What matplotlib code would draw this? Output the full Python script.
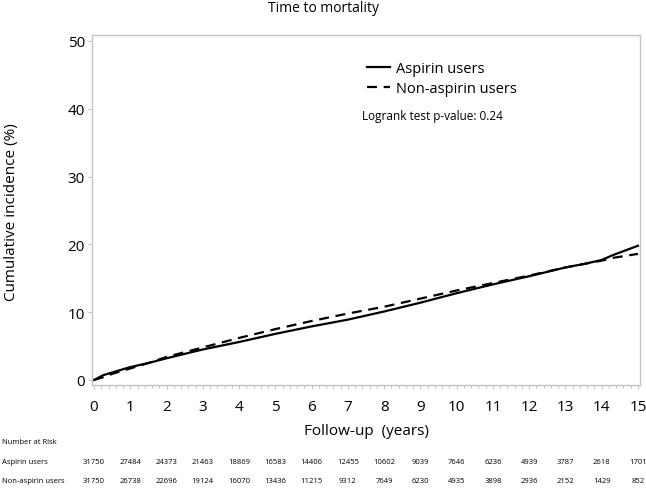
import matplotlib
matplotlib.use("Agg")
import matplotlib.pyplot as plt
import matplotlib.transforms as mtransforms
from matplotlib.ticker import MultipleLocator

plt.rcParams['font.family'] = ['Open Sans', 'DejaVu Sans']

# cumulative incidence curves
years = [0, 0.25, 0.5, 1, 1.5, 2, 3, 4, 5, 6, 7, 8, 9, 10, 11, 12, 13, 13.5, 14, 14.3, 15]
aspirin = [0, 0.7, 1.1, 1.9, 2.5, 3.2, 4.5, 5.6, 6.8, 7.9, 8.9, 10.1, 11.4, 12.8,
           14.1, 15.3, 16.6, 17.1, 17.7, 18.4, 19.8]
non_aspirin = [0, 0.4, 0.9, 1.7, 2.5, 3.4, 4.8, 6.2, 7.5, 8.7, 9.8, 10.8, 12.0, 13.2,
               14.3, 15.4, 16.6, 17.1, 17.6, 18.0, 18.6]

# number at risk table
risk_years = list(range(16))
risk_aspirin = [31750, 27484, 24373, 21463, 18869, 16583, 14406, 12455, 10602, 9039,
                7646, 6236, 4939, 3787, 2618, 1701]
risk_non = [31750, 26738, 22696, 19124, 16070, 13436, 11215, 9312, 7649, 6230,
            4935, 3898, 2936, 2152, 1429, 852]

W, H = 646, 489
fig = plt.figure(figsize=(W / 100, H / 100), dpi=100)
ax = fig.add_axes([92 / W, 1 - 386 / H, 548 / W, 350 / H])

ax.plot(years, aspirin, color='black', lw=1.6, label='Aspirin users')
ax.plot(years, non_aspirin, color='black', lw=1.6, dashes=(4.5, 3), label='Non-aspirin users')

ax.set_xlim(-0.055, 15.055)
ax.set_ylim(-0.74, 50.88)
ax.set_xticks(range(16))
ax.xaxis.set_minor_locator(MultipleLocator(0.2))
ax.set_yticks([0, 10, 20, 30, 40, 50])

grey = '#c4c4c4'
for s in ['left', 'right', 'top', 'bottom']:
    ax.spines[s].set_color(grey)
    ax.spines[s].set_linewidth(1.0)
ax.tick_params(axis='x', which='major', length=3.2, color=grey, width=0.8, pad=7,
               labelsize=11)
ax.tick_params(axis='x', which='minor', length=2.0, color=grey, width=0.8)
ax.tick_params(axis='y', length=3, color=grey, width=0.8, pad=2, labelsize=11)

leg = ax.legend(loc='upper left', bbox_to_anchor=(367 / W, 1 - 62 / H),
                bbox_transform=fig.transFigure, frameon=False, fontsize=10.5,
                handlelength=1.6, handletextpad=0.4, labelspacing=0.35,
                borderpad=0, borderaxespad=0)
fig.text(362 / W, 1 - 117 / H, 'Logrank test p-value: 0.24', fontsize=8.5,
         ha='left', va='center')

fig.text(0.5, 1 - 9 / H, 'Time to mortality', fontsize=10, ha='center', va='center',
         fontweight='medium')
fig.text(366 / W, 1 - 432 / H, 'Follow-up  (years)', fontsize=11, ha='center', va='center')
fig.text(12 / W, 1 - 212 / H, 'Cumulative incidence (%)', fontsize=11, rotation=90,
         ha='center', va='center')

trans = mtransforms.blended_transform_factory(ax.transData, fig.transFigure)
fig.text(2 / W, 1 - 443 / H, 'Number at Risk', fontsize=5.5, ha='left', va='center')
fig.text(2 / W, 1 - 463 / H, 'Aspirin users', fontsize=5.5, ha='left', va='center')
fig.text(2 / W, 1 - 482 / H, 'Non-aspirin users', fontsize=5.5, ha='left', va='center')
for x, a, n in zip(risk_years, risk_aspirin, risk_non):
    ax.text(x, 1 - 463 / H, str(a), transform=trans, fontsize=5.5, ha='center',
            va='center', clip_on=False)
    ax.text(x, 1 - 482 / H, str(n), transform=trans, fontsize=5.5, ha='center',
            va='center', clip_on=False)

fig.savefig('out.png', dpi=100)
